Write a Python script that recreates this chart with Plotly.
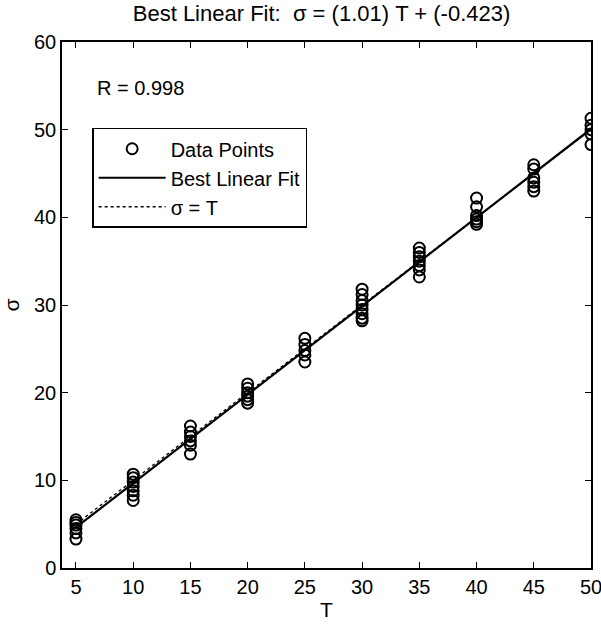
import plotly.graph_objects as go

# Data
T_levels = [5, 10, 15, 20, 25, 30, 35, 40, 45, 50]
sigma_vals = [
    [5.5, 5.2, 4.9, 4.5, 4.0, 3.3],
    [10.7, 10.3, 9.8, 9.3, 8.8, 8.3, 7.7],
    [16.2, 15.5, 15.0, 14.5, 14.0, 13.0],
    [21.0, 20.5, 20.0, 19.6, 19.2, 18.8],
    [26.2, 25.5, 24.8, 24.3, 23.5],
    [31.8, 31.2, 30.5, 30.0, 29.5, 29.0, 28.5, 28.2],
    [36.5, 36.0, 35.5, 35.0, 34.5, 34.0, 33.2],
    [42.2, 41.2, 40.2, 39.8, 39.5, 39.2],
    [46.0, 45.5, 44.5, 44.0, 43.5, 43.0],
    [51.3, 50.5, 50.0, 49.5, 48.3],
]
slope = 1.01
intercept = -0.423
R_value = 0.998
x_ticks = [5, 10, 15, 20, 25, 30, 35, 40, 45, 50]
y_ticks = [0, 10, 20, 30, 40, 50, 60]

xs, ys = [], []
for t, vals in zip(T_levels, sigma_vals):
    for v in vals:
        xs.append(t)
        ys.append(v)

line_x = [min(T_levels), max(T_levels)]
fit_y = [slope * x + intercept for x in line_x]

font = "Liberation Sans, Arial, sans-serif"
fs = 20

fig = go.Figure()
fig.add_trace(go.Scatter(
    x=xs, y=ys, mode="markers", name="Data Points",
    marker=dict(symbol="circle-open", size=11, color="black", line=dict(width=2, color="black")),
))
fig.add_trace(go.Scatter(
    x=line_x, y=fit_y, mode="lines", name="Best Linear Fit",
    line=dict(color="black", width=2.2),
))
fig.add_trace(go.Scatter(
    x=line_x, y=line_x, mode="lines", name="σ = T",
    line=dict(color="black", width=1.3, dash="dot"),
))

fig.add_annotation(
    x=0.062, y=0.913, xref="paper", yref="paper", xanchor="left", yanchor="middle",
    text=f"R = {R_value}", showarrow=False, font=dict(size=fs, color="black", family=font),
)

axis_common = dict(
    showgrid=False, zeroline=False, showline=True, linecolor="black", linewidth=1.5,
    mirror="ticks", ticks="inside", ticklen=6, tickcolor="black", tickwidth=1.3,
    tickfont=dict(size=fs, color="black", family=font), automargin=False,
    ticklabeloverflow="allow",
)

fig.update_layout(
    width=601, height=625,
    margin=dict(l=62, r=10, t=42, b=57),
    paper_bgcolor="white", plot_bgcolor="white",
    title=dict(
        text="Best Linear Fit:&nbsp;&nbsp;σ = (1.01) T + (-0.423)",
        x=0.535, xanchor="center", y=0.978, yanchor="middle",
        font=dict(size=22, color="black", family=font),
    ),
    xaxis=dict(range=[3.78, 50], tickvals=x_ticks,
               title=dict(text="T", font=dict(size=21, color="black", family=font), standoff=6),
               **axis_common),
    yaxis=dict(range=[0, 60], tickvals=y_ticks,
               title=dict(text="σ", font=dict(size=21, color="black", family=font), standoff=10),
               **axis_common),
    legend=dict(
        x=0.057, y=0.837, xanchor="left", yanchor="top",
        bgcolor="white", bordercolor="black", borderwidth=1.5,
        font=dict(size=fs, color="black", family=font),
        itemwidth=67,
    ),
    showlegend=True,
)

fig.write_html("out.html")
